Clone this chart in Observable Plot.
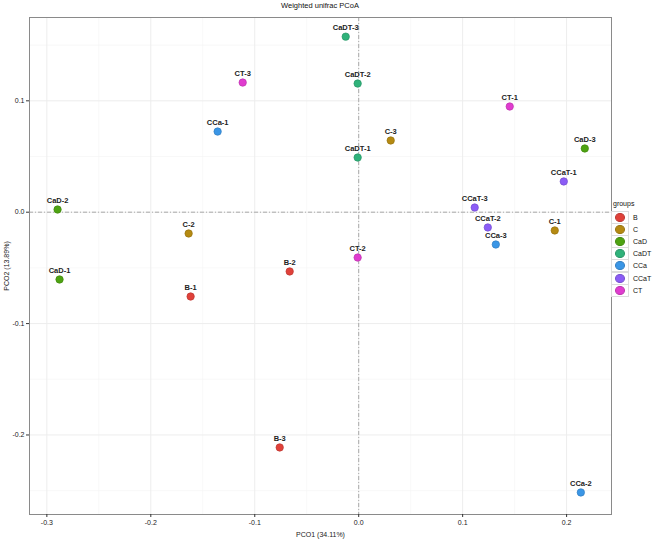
<!DOCTYPE html>
<html>
<head>
<meta charset="utf-8">
<script src="https://cdn.jsdelivr.net/npm/d3@7"></script>
<script src="https://cdn.jsdelivr.net/npm/@observablehq/plot@0.6"></script>
<style>
  body { margin: 0; background: #fff; font-family: "Liberation Sans", Arial, sans-serif; }
  #wrap { position: relative; width: 661px; height: 539px; }
  #title { position: absolute; left: 0; width: 640px; top: 1px; text-align: center; font-size: 7.5px; color: #111; }
  #legend { position: absolute; left: 611px; top: 200px; font-size: 7px; color: #111; }
  #legend .ttl { margin-bottom: 4px; margin-left: 2px; color: #111; }
  #legend .row { display: flex; align-items: center; height: 12.2px; color: #111; }
  #legend .key { width: 16px; height: 11px; border: 1px solid #ddd; background: #fff; display: flex; align-items: center; justify-content: center; margin-right: 4px; }
  #legend .dot { width: 8px; height: 7px; border-radius: 50%; }
</style>
</head>
<body>
<div id="wrap">
  <div id="title">Weighted unifrac PCoA</div>
  <div id="chart"></div>
  <div id="legend"></div>
</div>
<script>
const groupNames = ["B", "C", "CaD", "CaDT", "CCa", "CCaT", "CT"];
const groupColors = ["#E0413A", "#B58A12", "#4EA312", "#2FB27A", "#3A96E6", "#8B5CF6", "#E03CCF"];

const sampleIds = ["CaDT-3", "CaDT-2", "CT-3", "CT-1", "CCa-1", "C-3", "CaD-3", "CaDT-1", "CCaT-1", "CaD-2", "CCaT-3",
                   "C-2", "CCaT-2", "C-1", "CCa-3", "CT-2", "B-2", "CaD-1", "B-1", "B-3", "CCa-2"];
const sampleGroups = ["CaDT", "CaDT", "CT", "CT", "CCa", "C", "CaD", "CaDT", "CCaT", "CaD", "CCaT",
                      "C", "CCaT", "C", "CCa", "CT", "B", "CaD", "B", "B", "CCa"];
const pco1 = [-0.0125, -0.001, -0.1116, 0.1453, -0.1357, 0.0308, 0.2175, -0.001, 0.1973, -0.2897, 0.1116,
              -0.1636, 0.1242, 0.1886, 0.1319, -0.001, -0.0664, -0.2878, -0.1617, -0.076, 0.2137];
const pco2 = [0.1576, 0.1155, 0.1164, 0.0949, 0.0724, 0.0644, 0.0572, 0.0491, 0.0276, 0.0024, 0.0042,
              -0.0191, -0.0137, -0.0164, -0.029, -0.0407, -0.0532, -0.0604, -0.0757, -0.2112, -0.2516];

const xTicks = [-0.3, -0.2, -0.1, 0.0, 0.1, 0.2];
const yTicks = [-0.2, -0.1, 0.0, 0.1];
const xMinor = [-0.25, -0.15, -0.05, 0.05, 0.15];
const yMinor = [-0.25, -0.15, -0.05, 0.05, 0.15];

const data = sampleIds.map((id, i) => ({id, group: sampleGroups[i], x: pco1[i], y: pco2[i]}));
const darker = c => d3.color(c).darker(0.5).formatHex();
const colorOf = g => groupColors[groupNames.indexOf(g)];

const chart = Plot.plot({
  width: 661,
  height: 539,
  marginLeft: 29,
  marginRight: 50,
  marginTop: 17,
  marginBottom: 25,
  style: { fontFamily: "Liberation Sans, Arial, sans-serif", fontSize: "7px", color: "#222", background: "#fff" },
  x: { domain: [-0.3167, 0.2432], label: null },
  y: { domain: [-0.2714, 0.1748], label: null },
  color: { domain: groupNames, range: groupColors },
  marks: [
    Plot.gridX(xMinor, { stroke: "#f3f3f3", strokeOpacity: 1, strokeWidth: 0.6 }),
    Plot.gridY(yMinor, { stroke: "#f3f3f3", strokeOpacity: 1, strokeWidth: 0.6 }),
    Plot.gridX(xTicks, { stroke: "#ededed", strokeOpacity: 1, strokeWidth: 1 }),
    Plot.gridY(yTicks, { stroke: "#ededed", strokeOpacity: 1, strokeWidth: 1 }),
    Plot.ruleX([0], { stroke: "#aaa", strokeWidth: 1, strokeDasharray: "4,2,1,2" }),
    Plot.ruleY([0], { stroke: "#aaa", strokeWidth: 1, strokeDasharray: "4,2,1,2" }),
    Plot.frame({ stroke: "#8a8a8a", strokeWidth: 1 }),
    Plot.axisX({ ticks: xTicks, tickFormat: d => d.toFixed(1), tickSize: 3, tickPadding: 3, fontSize: 7, stroke: "#333",
      label: "PCO1 (34.11%)", labelAnchor: "center", labelArrow: "none", labelOffset: 22 }),
    Plot.axisY({ ticks: yTicks, tickFormat: d => d.toFixed(1), tickSize: 3, tickPadding: 2, fontSize: 7, stroke: "#333",
      label: "PCO2 (13.89%)", labelAnchor: "center", labelArrow: "none", labelOffset: 25 }),
    Plot.dot(data, { x: "x", y: "y", r: 3.7, fill: "group", stroke: d => darker(colorOf(d.group)), strokeWidth: 0.7 }),
    Plot.text(data, { x: "x", y: "y", text: "id", dy: -9, fontSize: 7.5, fontWeight: "bold", fill: "#222" })
  ]
});
document.getElementById("chart").appendChild(chart);

const legend = document.getElementById("legend");
const t = document.createElement("div");
t.className = "ttl";
t.textContent = "groups";
legend.appendChild(t);
groupNames.forEach((g, i) => {
  const row = document.createElement("div");
  row.className = "row";
  const key = document.createElement("div");
  key.className = "key";
  const dot = document.createElement("div");
  dot.className = "dot";
  dot.style.background = groupColors[i];
  dot.style.border = "0.7px solid " + darker(groupColors[i]);
  key.appendChild(dot);
  const lab = document.createElement("span");
  lab.textContent = g;
  row.appendChild(key);
  row.appendChild(lab);
  legend.appendChild(row);
});
</script>
</body>
</html>
